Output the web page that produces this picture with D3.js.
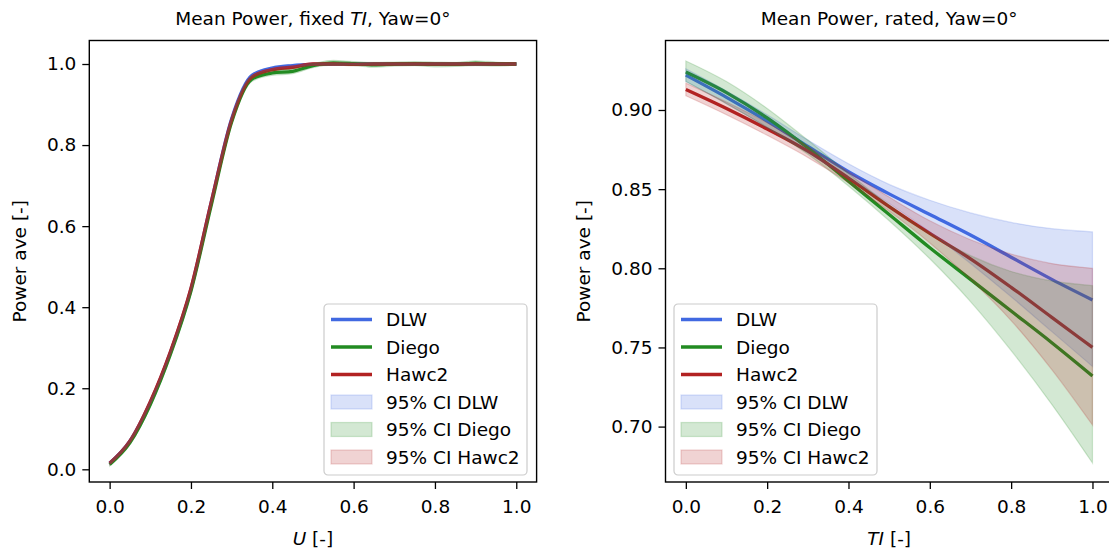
<!DOCTYPE html>
<html>
<head>
<meta charset="utf-8">
<script src="https://cdn.jsdelivr.net/npm/d3@7"></script>
<style>
	body { margin: 0; background: #fff; }
	text { font-family: "DejaVu Sans", sans-serif; }
</style>
</head>
<body>
<svg id="chart" width="1109" height="550"></svg>
<script>
// ---- data: left panel, power vs normalised wind speed U ----
const uGrid = [0, 0.05, 0.1, 0.15, 0.2, 0.25, 0.3, 0.35, 0.4, 0.45, 0.5, 0.55, 0.6, 0.65, 0.7, 0.75, 0.8, 0.85, 0.9, 0.95, 1.0];

const dlwFixed   = [0.015, 0.07, 0.165, 0.29, 0.445, 0.66, 0.865, 0.972, 0.99, 0.996, 0.999, 1.0, 1.0, 1.0, 1.0, 1.0, 1.0, 1.0, 1.0, 1.0, 1.0];
const dlwFixedLo = [0.012, 0.067, 0.161, 0.286, 0.441, 0.656, 0.861, 0.969, 0.987, 0.993, 0.997, 0.998, 0.998, 0.998, 0.998, 0.998, 0.998, 0.998, 0.998, 0.998, 0.998];
const dlwFixedHi = [0.018, 0.073, 0.169, 0.294, 0.449, 0.664, 0.869, 0.975, 0.993, 0.999, 1.001, 1.002, 1.002, 1.002, 1.002, 1.002, 1.002, 1.002, 1.002, 1.002, 1.002];

const diegoFixed   = [0.012, 0.066, 0.16, 0.285, 0.44, 0.652, 0.857, 0.963, 0.978, 0.982, 0.996, 1.003, 1.001, 0.998, 1.0, 1.001, 0.999, 0.999, 1.002, 1.0, 1.0];
const diegoFixedLo = [0.008, 0.061, 0.154, 0.279, 0.433, 0.645, 0.85, 0.957, 0.972, 0.976, 0.991, 0.997, 0.996, 0.992, 0.995, 0.996, 0.993, 0.994, 0.996, 0.995, 0.997];
const diegoFixedHi = [0.016, 0.071, 0.166, 0.291, 0.447, 0.659, 0.864, 0.969, 0.984, 0.988, 1.001, 1.009, 1.006, 1.004, 1.005, 1.006, 1.005, 1.004, 1.008, 1.005, 1.003];

const hawc2Fixed   = [0.015, 0.07, 0.167, 0.292, 0.447, 0.66, 0.862, 0.968, 0.986, 0.992, 1.0, 1.0, 0.999, 1.0, 1.0, 1.0, 1.0, 1.0, 1.0, 1.0, 1.0];
const hawc2FixedLo = [0.012, 0.067, 0.163, 0.288, 0.443, 0.656, 0.858, 0.965, 0.983, 0.989, 0.997, 0.997, 0.996, 0.997, 0.997, 0.997, 0.997, 0.997, 0.997, 0.997, 0.997];
const hawc2FixedHi = [0.018, 0.073, 0.171, 0.296, 0.451, 0.664, 0.866, 0.971, 0.989, 0.995, 1.003, 1.003, 1.002, 1.003, 1.003, 1.003, 1.003, 1.003, 1.003, 1.003, 1.003];

// ---- data: right panel, rated power vs turbulence intensity TI ----
const tiGrid = [0, 0.1, 0.2, 0.3, 0.4, 0.5, 0.6, 0.7, 0.8, 0.9, 1.0];

const dlwRated   = [0.922, 0.908, 0.893, 0.877, 0.861, 0.847, 0.834, 0.821, 0.807, 0.793, 0.780];
const dlwRatedLo = [0.918, 0.904, 0.889, 0.873, 0.857, 0.841, 0.823, 0.803, 0.782, 0.760, 0.738];
const dlwRatedHi = [0.926, 0.912, 0.897, 0.881, 0.866, 0.853, 0.843, 0.835, 0.829, 0.825, 0.823];

const diegoRated   = [0.924, 0.911, 0.895, 0.876, 0.855, 0.834, 0.813, 0.793, 0.773, 0.753, 0.732];
const diegoRatedLo = [0.918, 0.904, 0.889, 0.872, 0.852, 0.830, 0.806, 0.779, 0.748, 0.714, 0.677];
const diegoRatedHi = [0.931, 0.918, 0.901, 0.881, 0.860, 0.840, 0.822, 0.808, 0.798, 0.792, 0.789];

const hawc2Rated   = [0.913, 0.901, 0.888, 0.874, 0.857, 0.839, 0.822, 0.806, 0.788, 0.769, 0.750];
const hawc2RatedLo = [0.909, 0.897, 0.884, 0.870, 0.854, 0.836, 0.816, 0.793, 0.767, 0.736, 0.701];
const hawc2RatedHi = [0.917, 0.905, 0.892, 0.877, 0.861, 0.845, 0.830, 0.818, 0.809, 0.803, 0.800];

const xTicks = [0, 0.2, 0.4, 0.6, 0.8, 1.0];
const yTicksFixed = [0, 0.2, 0.4, 0.6, 0.8, 1.0];
const yTicksRated = [0.70, 0.75, 0.80, 0.85, 0.90];

const names = ["DLW", "Diego", "Hawc2"];
const colors = ["#4169e1", "#228b22", "#b22222"];

// ---- layout ----
const svg = d3.select("#chart");
const plotTop = 40.5;
const plotBottom = 482;
const fontSize = 18.5;

function drawPanel(p) {
	const x = d3.scaleLinear().domain([-0.05, 1.05]).range([p.left, p.right]);
	const y = d3.scaleLinear().domain(p.yDomain).range([plotBottom, plotTop]);
	const g = svg.append("g");

	// clip the curves to the axes box
	svg.append("clipPath").attr("id", `clip-${p.id}`)
		.append("rect")
		.attr("x", p.left).attr("y", plotTop)
		.attr("width", p.right - p.left).attr("height", plotBottom - plotTop);
	const plot = g.append("g").attr("clip-path", `url(#clip-${p.id})`);

	const line = d3.line()
		.x((d) => x(d[0]))
		.y((d) => y(d[1]))
		.curve(d3.curveMonotoneX);
	const area = d3.area()
		.x((d) => x(d[0]))
		.y0((d) => y(d[1]))
		.y1((d) => y(d[2]))
		.curve(d3.curveMonotoneX);

	// mean lines first, then the CI bands on top (same order as legend)
	p.series.forEach((s, i) => {
		plot.append("path")
			.datum(p.grid.map((v, k) => [v, s.mean[k]]))
			.attr("d", line)
			.attr("fill", "none")
			.attr("stroke", colors[i])
			.attr("stroke-width", 3.3);
	});
	p.series.forEach((s, i) => {
		plot.append("path")
			.datum(p.grid.map((v, k) => [v, s.lo[k], s.hi[k]]))
			.attr("d", area)
			.attr("fill", colors[i])
			.attr("fill-opacity", 0.2)
			.attr("stroke", colors[i])
			.attr("stroke-opacity", 0.2)
			.attr("stroke-width", 1.2);
	});

	// axes
	const xAxis = g.append("g")
		.attr("transform", `translate(0,${plotBottom})`)
		.call(d3.axisBottom(x).tickValues(xTicks).tickFormat(d3.format(".1f")).tickSize(7).tickPadding(11));
	const yAxis = g.append("g")
		.attr("transform", `translate(${p.left},0)`)
		.call(d3.axisLeft(y).tickValues(p.yTicks).tickFormat(d3.format(p.yFormat)).tickSize(7).tickPadding(6));
	[xAxis, yAxis].forEach((a) => {
		a.select(".domain").remove();
		a.selectAll(".tick line").attr("stroke", "#000").attr("stroke-width", 1.3);
		a.selectAll(".tick text")
			.attr("fill", "#000")
			.style("font-size", `${fontSize}px`)
			.style("font-family", "'DejaVu Sans', sans-serif");
	});

	// frame
	g.append("rect")
		.attr("x", p.left).attr("y", plotTop)
		.attr("width", p.right - p.left).attr("height", plotBottom - plotTop)
		.attr("fill", "none")
		.attr("stroke", "#000")
		.attr("stroke-width", 1.4);

	const cx = (p.left + p.right) / 2;

	// title
	const title = g.append("text")
		.attr("x", cx).attr("y", 25)
		.attr("text-anchor", "middle")
		.style("font-size", `${fontSize}px`);
	p.title.forEach((part) => {
		title.append("tspan").text(part[0]).style("font-style", part[1] ? "italic" : "normal");
	});

	// x label
	const xl = g.append("text")
		.attr("x", cx).attr("y", 545)
		.attr("text-anchor", "middle")
		.style("font-size", `${fontSize}px`);
	p.xlabel.forEach((part) => {
		xl.append("tspan").text(part[0]).style("font-style", part[1] ? "italic" : "normal");
	});

	// y label
	g.append("text")
		.attr("transform", `translate(${p.ylabelX},${(plotTop + plotBottom) / 2}) rotate(-90)`)
		.attr("text-anchor", "middle")
		.style("font-size", `${fontSize}px`)
		.text("Power ave [-]");

	drawLegend(g, p.legendX, p.legendY);
}

function drawLegend(g, bx, by) {
	const w = 203;
	const h = 171;
	const lg = g.append("g").attr("transform", `translate(${bx},${by})`);
	lg.append("rect")
		.attr("width", w).attr("height", h)
		.attr("rx", 4)
		.attr("fill", "#fff").attr("fill-opacity", 0.8)
		.attr("stroke", "#cccccc").attr("stroke-width", 1.2);

	const rowY = (k) => 15.5 + k * 27.5;
	names.forEach((n, i) => {
		lg.append("line")
			.attr("x1", 7).attr("x2", 48)
			.attr("y1", rowY(i)).attr("y2", rowY(i))
			.attr("stroke", colors[i]).attr("stroke-width", 3.3);
		lg.append("text")
			.attr("x", 62).attr("y", rowY(i)).attr("dy", "0.36em")
			.style("font-size", `${fontSize}px`)
			.text(n);
	});
	names.forEach((n, i) => {
		const k = i + 3;
		lg.append("rect")
			.attr("x", 7).attr("y", rowY(k) - 7)
			.attr("width", 41).attr("height", 14)
			.attr("fill", colors[i]).attr("fill-opacity", 0.2)
			.attr("stroke", colors[i]).attr("stroke-opacity", 0.2)
			.attr("stroke-width", 1.2);
		lg.append("text")
			.attr("x", 62).attr("y", rowY(k)).attr("dy", "0.36em")
			.style("font-size", `${fontSize}px`)
			.text(`95% CI ${n}`);
	});
}

drawPanel({
	id: "fixed",
	left: 89.3,
	right: 536.6,
	yDomain: [-0.0313, 1.058],
	yTicks: yTicksFixed,
	yFormat: ".1f",
	grid: uGrid,
	series: [
		{ mean: dlwFixed, lo: dlwFixedLo, hi: dlwFixedHi },
		{ mean: diegoFixed, lo: diegoFixedLo, hi: diegoFixedHi },
		{ mean: hawc2Fixed, lo: hawc2FixedLo, hi: hawc2FixedHi },
	],
	title: [["Mean Power, fixed ", false], ["TI", true], [", Yaw=0°", false]],
	xlabel: [["U", true], [" [-]", false]],
	ylabelX: 26,
	legendX: 324,
	legendY: 304,
});

drawPanel({
	id: "rated",
	left: 665.5,
	right: 1112.8,
	yDomain: [0.665, 0.9439],
	yTicks: yTicksRated,
	yFormat: ".2f",
	grid: tiGrid,
	series: [
		{ mean: dlwRated, lo: dlwRatedLo, hi: dlwRatedHi },
		{ mean: diegoRated, lo: diegoRatedLo, hi: diegoRatedHi },
		{ mean: hawc2Rated, lo: hawc2RatedLo, hi: hawc2RatedHi },
	],
	title: [["Mean Power, rated, Yaw=0°", false]],
	xlabel: [["TI", true], [" [-]", false]],
	ylabelX: 590,
	legendX: 674,
	legendY: 304,
});
</script>
</body>
</html>
